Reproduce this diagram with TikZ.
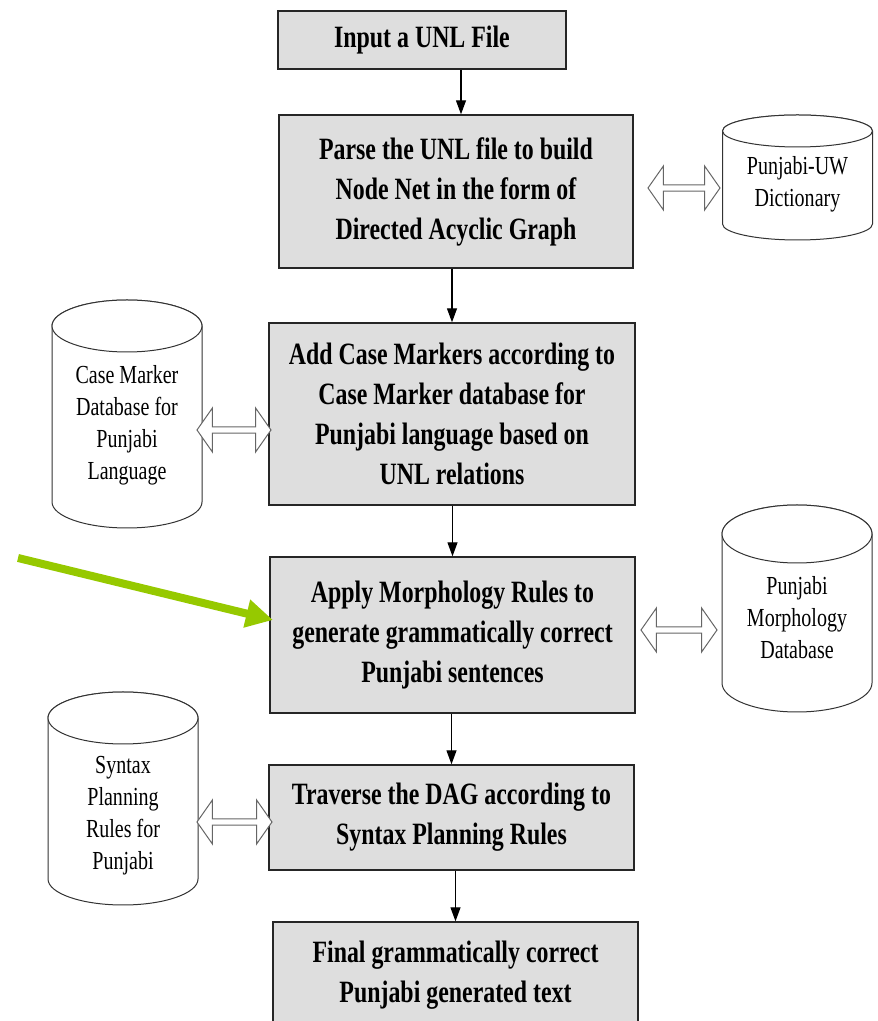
\documentclass[tikz,border=0pt]{standalone}
\usepackage{fontspec}
\setmainfont[FakeStretch=0.77]{Liberation Serif}
\usetikzlibrary{shapes.arrows,arrows.meta}
\definecolor{boxgray}{RGB}{222,222,222}
\definecolor{pointer}{RGB}{150,201,0}

\begin{document}
\begin{tikzpicture}[x=1pt,y=1pt,
    stepbox/.style={rectangle,draw=black!85,line width=1.4pt,fill=boxgray,align=center,
        font=\fontsize{31}{40}\selectfont\bfseries,inner sep=0pt},
    drum/.style={draw=black!80,line width=1pt,fill=white},
    dbtext/.style={align=center,font=\fontsize{26}{32}\selectfont,inner sep=0pt},
    link/.style={double arrow,draw=black!60,line width=1pt,fill=white,
        minimum width=44pt,double arrow head extend=3pt,double arrow tip angle=110,inner sep=0pt},
    flow/.style={line width=1.2pt,-{Triangle[length=14pt,width=10pt]}},
    pointerline/.style={color=pointer,line width=8pt,-{Triangle[length=27pt,width=27pt]}}]
            \clip (0,0) rectangle (878,1021);

            \node[stepbox,minimum width=288pt,minimum height=58pt] (input) at (422,981) {Input a UNL File};
            \node[stepbox,minimum width=354pt,minimum height=153pt] (parse) at (456,829.5) {Parse the UNL file to build\\Node Net in the form of\\Directed Acyclic Graph};
            \node[stepbox,minimum width=366pt,minimum height=182pt] (casem) at (452,607) {Add Case Markers according to\\Case Marker database for\\Punjabi language based on\\UNL relations};
            \node[stepbox,minimum width=365pt,minimum height=156pt] (apply) at (452.5,386) {Apply Morphology Rules to\\generate grammatically correct\\Punjabi sentences};
            \node[stepbox,minimum width=365pt,minimum height=105pt] (traverse) at (451.5,203.5) {Traverse the DAG according to\\Syntax Planning Rules};
            \node[stepbox,minimum width=365pt,minimum height=106pt] (final) at (455.5,46) {Final grammatically correct\\Punjabi generated text};

            % database drums: centre x / top ellipse y / bottom ellipse y / ellipse height
            \foreach \cx/\yt/\yb/\ry in {797.5/890/797/16, 127/695/519/26, 797/487/338/29, 123/303/142/26} {
                \filldraw[drum] ({\cx-75},\yt) -- ({\cx-75},\yb)
                    arc[start angle=180,end angle=360,x radius=75,y radius=\ry]
                    -- ({\cx+75},\yt) arc[start angle=0,end angle=180,x radius=75,y radius=\ry] -- cycle;
                \draw[drum] (\cx,\yt) ellipse [x radius=75,y radius=\ry];
            }

            \node[dbtext] (dict) at (797.5,836.5) {Punjabi-UW\\Dictionary};
            \node[dbtext] (casedb) at (127,596) {Case Marker\\Database for\\Punjabi\\Language};
            \node[dbtext] (morph) at (797,403) {Punjabi\\Morphology\\Database};
            \node[dbtext] (syntax) at (123,205.5) {Syntax\\Planning\\Rules for\\Punjabi};

            \node[link,minimum height=72pt] (dA) at (684,833) {};
            \node[link,minimum height=74pt] (dB) at (234,591) {};
            \node[link,minimum height=76pt] (dC) at (679,391) {};
            \node[link,minimum height=75pt] (dD) at (234.5,199) {};

            \path [flow] ([xshift=5pt]parse.north |- input.south) edge ([xshift=5pt]parse.north);
            \path [flow] (casem.north |- parse.south) edge (casem.north);
            \path [flow] (apply.north |- casem.south) edge (apply.north);
            \path [flow] (traverse.north |- apply.south) edge (traverse.north);
            \path [flow] (final.north |- traverse.south) edge (final.north);

            \coordinate (hint) at (18,463);
            \coordinate (tip) at (273,401);
            \path [pointerline] (hint) edge (tip);
        \end{tikzpicture}
\end{document}
